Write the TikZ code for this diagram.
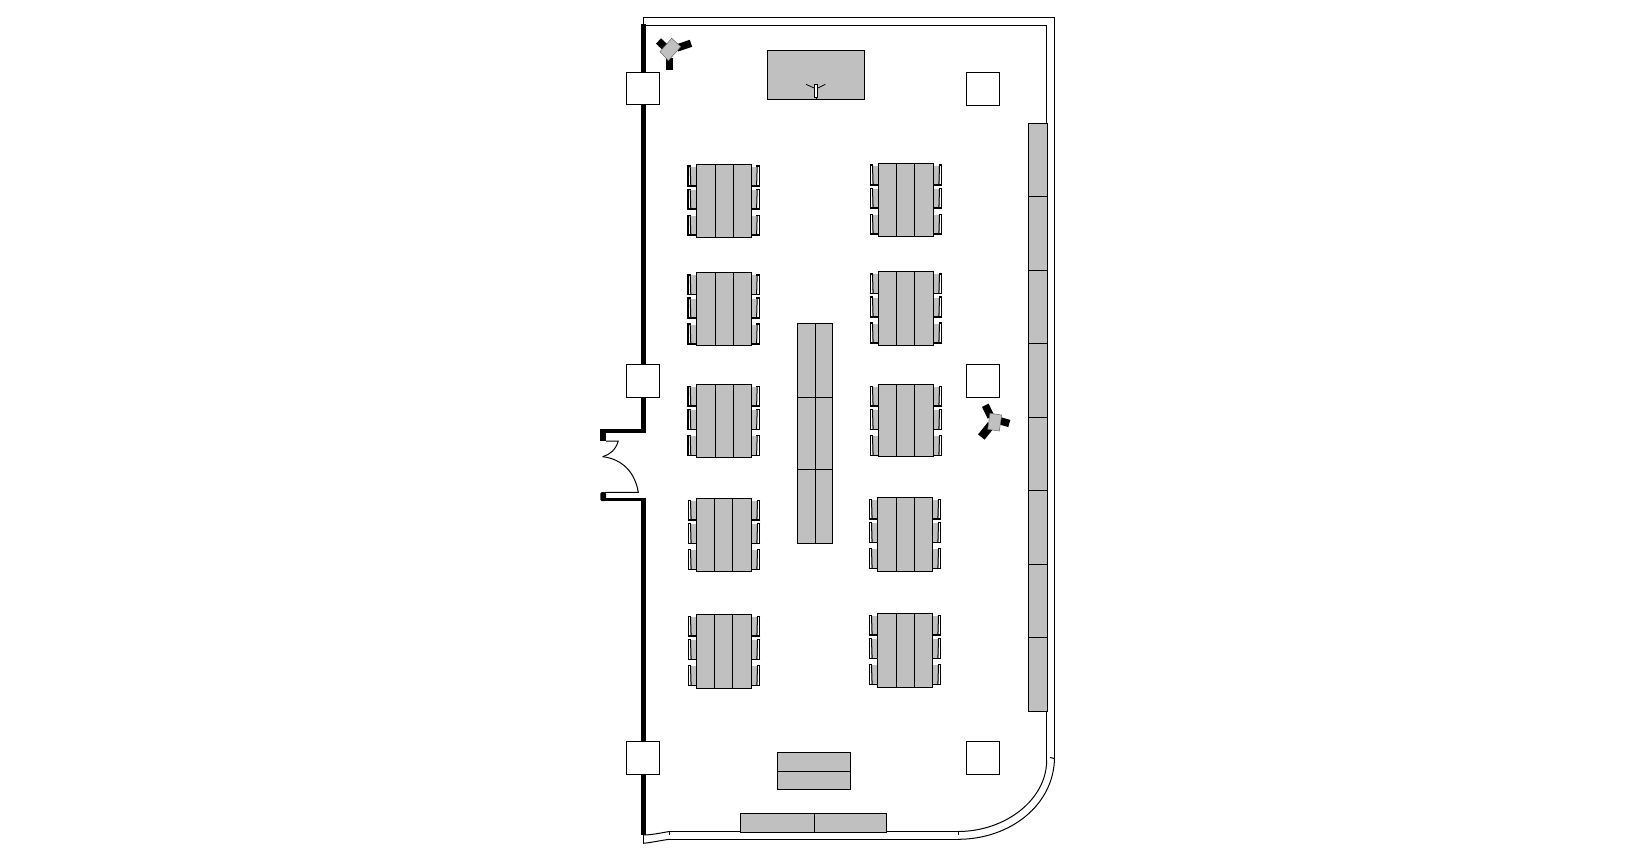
\documentclass[tikz,border=0pt]{standalone}
\definecolor{tablegrey}{HTML}{C0C0C0}
\tikzset{
	thinline/.style={line width=1pt, color=black},
	wall/.style={line width=4.8pt, color=black},
	stub/.style={line width=3.6pt, color=black},
	tabletop/.style={thinline, fill=tablegrey},
	pillar/.style={thinline, fill=white},
	camarm/.style={line width=7.4pt, color=black},
}
% edge x, top y, side (1 = left of table, -1 = right)
\def\chair(#1,#2,#3){
	\begin{scope}[shift={(#1,#2)}, xscale=#3]
		\fill[tablegrey] (-6,0.5) rectangle (0,19.5);
		\draw[line width=1pt] (-5.8,0.5) -- (-5.2,19.5);
		\draw[line width=1.1pt] (-8,0) -- (-8,19.8);
		\draw[line width=1.6pt] (-8.6,0) -- (-5,0);
		\draw[line width=1.6pt] (-8.6,19.8) -- (0,19.8);
	\end{scope}
}
% left x, top y, height, offset of first divider
\def\banquet(#1,#2,#3,#4){
	\foreach \offs in {2,25.3,51.3}{
		\chair(#1,#2+\offs,1)
		\chair(#1+55.4,#2+\offs,-1)
	}
	\draw[tabletop] (#1,#2) rectangle ++(55.4,#3);
	\draw[thinline] (#1+#4,#2) -- ++(0,#3);
	\draw[thinline] (#1+#4+18,#2) -- ++(0,#3);
}
\begin{document}
\begin{tikzpicture}[x=1pt, y=-1pt]
	\useasboundingbox (0,0) rectangle (1650,860);
	%%%%% WALLS %%%%%
	\draw[thinline] (643,25) -- (643,17.5) -- (1054.5,17.5) -- (1054.5,757);
	\draw[thinline] (645,25.3) -- (1046.7,25.3) -- (1046.7,123.3);
	\draw[thinline] (1046.7,711.3) -- (1046.7,760);
	\draw[thinline] (1050,757.5) -- (1054.5,758.5);

	\draw[wall] (643.3,24) -- (643.3,432.7);
	\draw[stub] (643.3,431) -- (603,431);
	\fill (600.3,429.3) rectangle (606,441.3);
	\draw[wall] (643.3,497.8) -- (643.3,835);
	\draw[stub] (645.6,499.5) -- (603,499.5);
	\fill[rounded corners=1.5pt] (600.3,492) rectangle (606,501.2);

	%%%%% DOOR %%%%%
	\draw[thinline] (606,441) -- (618.3,441) .. controls (615.5,450) and (610,454.5) .. (602.7,456.7);
	\draw[thinline] (602.7,456.7) .. controls (622,459) and (635,472) .. (638.3,492.3) -- (605,492.3);

	%%%%% CURVED CORNER AND BOTTOM %%%%%
	\draw[thinline] (958,831.5) .. controls (1005,831.5) and (1046.7,800) .. (1046.7,760);
	\draw[thinline] (958,839.3) .. controls (1010,839.3) and (1054.5,805) .. (1054.5,757);
	\draw[thinline] (958,831.5) -- (958,835);
	\draw[thinline] (669.3,831.5) -- (958,831.5);
	\draw[thinline] (669.3,839.3) -- (958,839.3);
	\draw[thinline] (669.3,831.5) -- (669.3,835);
	\draw[thinline] (643,835) .. controls (652,835) and (660,833) .. (669.3,831.5);
	\draw[thinline] (643,843.3) .. controls (652,842.5) and (660,840.5) .. (669.3,839.3);
	\draw[thinline] (643,835) -- (643,843.3);

	%%%%% PILLARS %%%%%
	\draw[pillar] (626.3,72.3) rectangle (659.7,104.5);
	\draw[pillar] (626.3,364.3) rectangle (659.7,397.3);
	\draw[pillar] (626.3,741.3) rectangle (659.7,774.3);
	\draw[pillar] (966.3,72.3) rectangle (999.6,105);
	\draw[pillar] (966.3,364.3) rectangle (999.6,397.5);
	\draw[pillar] (966.3,741.3) rectangle (999.6,774.3);

	%%%%% STAGE %%%%%
	\draw[tabletop] (767.3,50.3) rectangle (864.3,99.3);
	\draw[line width=0.8pt, fill=white] (814.8,84.5) rectangle (817.2,97);
	\draw[thinline] (816,97) -- (816,99.3);
	\draw[line width=0.8pt] (806,84.3) -- (814.7,88.3);
	\draw[line width=0.8pt] (825.3,84.3) -- (817.3,88.3);

	%%%%% BANQUET TABLES %%%%%
	\banquet(696,164,73.3,19.3)
	\banquet(696,272.7,72.6,19.3)
	\banquet(696,384.3,73,19.3)
	\banquet(696.3,498.3,73,18)
	\banquet(696.3,614.3,74,18)

	\banquet(878.3,163,73.5,18)
	\banquet(878.3,271.7,73.6,18)
	\banquet(878.3,384.3,72,18)
	\banquet(877.3,497.3,74,19)
	\banquet(877.3,613.3,74,19)

	%%%%% CENTRE TABLE %%%%%
	\draw[tabletop] (797.3,323.3) rectangle (832.7,543.3);
	\draw[thinline] (815.3,323.3) -- (815.3,543.3);
	\draw[thinline] (797.3,397.3) -- (832.7,397.3);
	\draw[thinline] (797.3,469.3) -- (832.7,469.3);

	%%%%% BOTTOM TABLES %%%%%
	\draw[tabletop] (777.3,752.7) rectangle (850.7,789.7);
	\draw[thinline] (777.3,771.3) -- (850.7,771.3);
	\draw[tabletop] (740.3,813.3) rectangle (886.7,832.3);
	\draw[thinline] (814.3,813.3) -- (814.3,832.3);

	%%%%% SIDE COUNTER %%%%%
	\draw[tabletop] (1028.3,123.3) rectangle (1047.7,711.3);
	\foreach \ydiv in {196.8,270.3,343.8,417.3,490.8,564.3,637.8}{
		\draw[thinline] (1028.3,\ydiv) -- (1047.7,\ydiv);
	}

	%%%%% CAMERAS %%%%%
	\draw[camarm] (658.5,41) -- (667,49);
	\draw[camarm] (691,43.3) -- (677,48);
	\draw[camarm] (669.7,70.3) -- (669.7,58);
	\draw[fill=tablegrey, draw=black!60, line width=0.5pt] (671.7,38.3) -- (680.7,46.7) -- (668.3,60.7) -- (660,51.7) -- cycle;

	\draw[camarm] (985.3,405.3) -- (991,417);
	\draw[camarm] (1009.3,423.5) -- (999,420.5);
	\draw[camarm, line width=8.4pt] (981.3,437) -- (991,425);
	\draw[fill=tablegrey, draw=black!60, line width=0.5pt] (990,413.3) -- (1001.7,415) -- (999.3,431) -- (987.7,429.3) -- cycle;
\end{tikzpicture}
\end{document}
